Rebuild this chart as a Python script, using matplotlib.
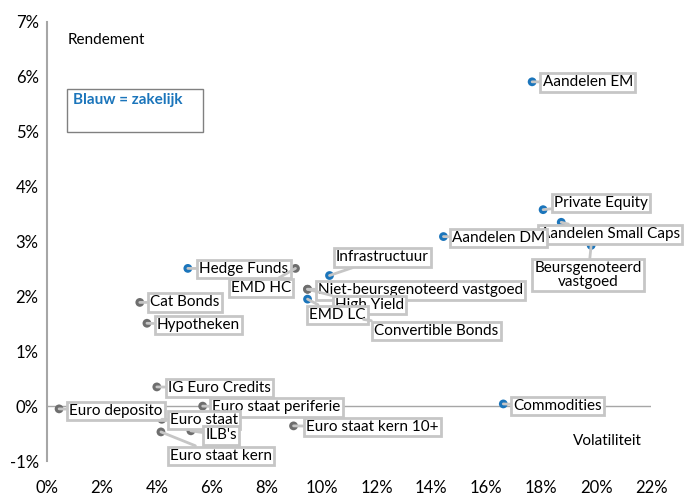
import matplotlib
matplotlib.use("Agg")
import matplotlib.pyplot as plt

plt.rcParams['font.family'] = ['Lato', 'DejaVu Sans']

# data: volatiliteit (%), rendement (%), zakelijk (blauw)
names = ["Aandelen EM", "Private Equity", "Aandelen Small Caps", "Aandelen DM",
         "Beursgenoteerd\nvastgoed", "Hedge Funds", "EMD HC", "Infrastructuur",
         "Niet-beursgenoteerd vastgoed", "High Yield", "EMD LC", "Convertible Bonds",
         "Cat Bonds", "Hypotheken", "IG Euro Credits", "Euro deposito",
         "Euro staat periferie", "Euro staat", "ILB's", "Euro staat kern",
         "Euro staat kern 10+", "Commodities"]
vol = [17.67, 18.07, 18.73, 14.44, 19.82, 5.13, 9.05, 10.29, 9.49, 9.49, 9.49, 11.53,
       3.38, 3.64, 4.0, 0.44, 5.67, 4.18, 5.24, 4.15, 8.98, 16.62]
rend = [5.91, 3.58, 3.35, 3.09, 2.93, 2.51, 2.51, 2.38, 2.13, 2.13, 1.95, 1.58,
        1.89, 1.51, 0.35, -0.05, 0.0, -0.24, -0.45, -0.47, -0.36, 0.04]
zakelijk = [True, True, True, True, True, True, False, True, False, False, True, False,
            False, False, False, False, False, False, False, False, False, True]

x_ticks = list(range(0, 23, 2))
y_ticks = list(range(-1, 8))

# label placement (data coords of text anchor) and alignment
label_pos = {
    "Aandelen EM": (18.05, 5.90, "left"),
    "Private Equity": (18.47, 3.70, "left"),
    "Aandelen Small Caps": (17.95, 3.13, "left"),
    "Aandelen DM": (14.75, 3.06, "left"),
    "Beursgenoteerd\nvastgoed": (19.71, 2.39, "center"),
    "Hedge Funds": (5.54, 2.50, "left"),
    "EMD HC": (8.89, 2.15, "right"),
    "Infrastructuur": (10.53, 2.71, "left"),
    "Niet-beursgenoteerd vastgoed": (9.87, 2.11, "left"),
    "High Yield": (10.49, 1.84, "left"),
    "EMD LC": (9.54, 1.66, "left"),
    "Convertible Bonds": (11.91, 1.37, "left"),
    "Cat Bonds": (3.75, 1.89, "left"),
    "Hypotheken": (4.0, 1.48, "left"),
    "IG Euro Credits": (4.41, 0.33, "left"),
    "Euro deposito": (0.80, -0.09, "left"),
    "Euro staat periferie": (6.01, -0.02, "left"),
    "Euro staat": (4.48, -0.25, "left"),
    "ILB's": (5.76, -0.53, "left"),
    "Euro staat kern": (4.48, -0.91, "left"),
    "Euro staat kern 10+": (9.44, -0.38, "left"),
    "Commodities": (16.98, 0.0, "left"),
}

blue = "#1b75bb"
grey = "#6e6e6e"
lite = "#c6c6c6"
fs = 11

fig = plt.figure(figsize=(6.86, 4.98), dpi=100)
ax = fig.add_axes([47 / 686, 37 / 498, 604 / 686, 439 / 498])
ax.set_xlim(0, 22)
ax.set_ylim(-1, 7)

for s in ["top", "right", "bottom"]:
    ax.spines[s].set_visible(False)
ax.spines["left"].set_color("#a6a6a6")
ax.spines["left"].set_linewidth(1.5)
ax.axhline(0, color="#a6a6a6", lw=1, zorder=1)

ax.set_xticks(x_ticks)
ax.set_xticklabels([f"{t}%" for t in x_ticks], fontsize=fs + 1)
ax.set_yticks(y_ticks)
ax.set_yticklabels([f"{t}%" for t in y_ticks], fontsize=fs + 1)
ax.tick_params(axis="x", length=0, pad=14)
ax.tick_params(axis="y", length=0, pad=6)

colors = [blue if z else grey for z in zakelijk]
ax.scatter(vol, rend, s=40, c=colors, zorder=2, linewidths=0)

for n, xv, yv in zip(names, vol, rend):
    tx, ty, ha = label_pos[n]
    ax.annotate(n, xy=(xv, yv), xytext=(tx, ty), ha=ha, va="center",
                fontsize=fs, zorder=4, linespacing=0.95,
                bbox=dict(boxstyle="square,pad=0.15", fc="white", ec=lite, lw=2),
                arrowprops=dict(arrowstyle="-", color=lite, lw=2, shrinkA=0, shrinkB=0))

ax.text(0.75, 6.68, "Rendement", fontsize=fs, va="center")
ax.text(20.4, -0.64, "Volatiliteit", fontsize=fs, va="center", ha="center")

ax.add_patch(plt.Rectangle((0.73, 5.0), 4.97, 0.78, fill=False, ec="#808080", lw=1))
ax.text(0.95, 5.58, "Blauw = zakelijk", color=blue, fontsize=fs, va="center",
        fontweight="bold")

fig.savefig("out.png", dpi=100)
